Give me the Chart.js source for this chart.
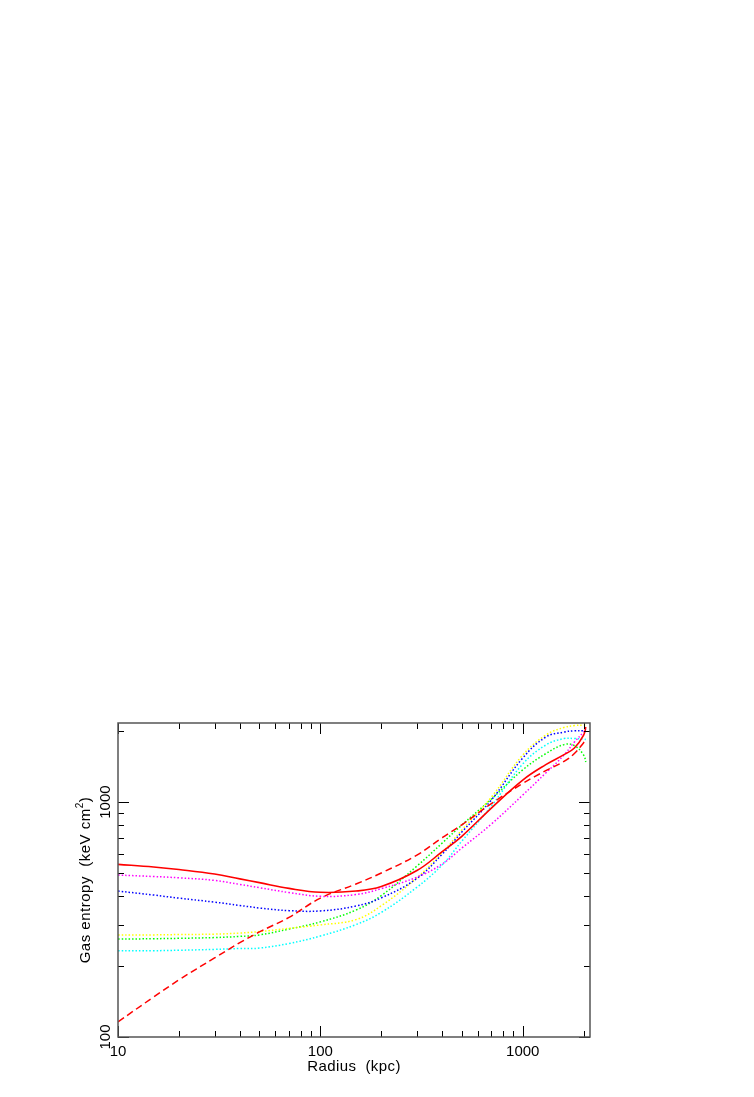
<!DOCTYPE html>
<html>
<head>
<meta charset="utf-8">
<script src="https://cdn.jsdelivr.net/npm/chart.js@4/dist/chart.umd.min.js"></script>
<style>
  html, body { margin: 0; padding: 0; background: #fff; }
  #c { position: absolute; left: 0; top: 0; }
</style>
</head>
<body>
<canvas id="c" width="754" height="1097"></canvas>
<script>
// radius (kpc) and gas entropy (keV cm^2)
const radius    = [10, 15, 20, 30, 40, 50, 70, 100, 150, 200, 300, 400, 500, 700, 1000, 1300, 1600, 1800, 2000, 2050];
const redSolid  = [543, 529, 516, 494, 471, 454, 429, 413, 418, 437, 511, 615, 715, 943, 1241, 1443, 1591, 1698, 1928, 2085];
const redDashed = [116, 148, 175, 217, 252, 280, 323, 390, 448, 499, 595, 705, 800, 985, 1200, 1360, 1490, 1610, 1790, 1840];
const magenta   = [489, 482, 476, 464, 446, 432, 412, 397, 404, 428, 479, 545, 637, 806, 1071, 1329, 1585, 1800, 1986, 2045];
const blue      = [418, 402, 390, 375, 363, 354, 345, 344, 361, 391, 473, 600, 745, 1020, 1539, 1891, 1986, 2011, 2011, 2011];
const yellow    = [272, 272, 273, 274, 277, 281, 290, 300, 316, 362, 476, 610, 760, 1050, 1585, 1928, 2078, 2115, 2127, 2127];
const green     = [261, 262, 263, 265, 268, 272, 288, 309, 347, 400, 534, 669, 798, 1029, 1371, 1607, 1756, 1739, 1585, 1480];
const cyan      = [233, 233, 234, 236, 238, 239, 250, 269, 301, 339, 434, 540, 682, 962, 1452, 1748, 1863, 1863, 1854, 1845];

const xMin = 10, xMax = 2150;
const yMin = 100, yMax = 2170;
const xLabels = [10, 100, 1000];
const yLabels = [100, 1000];

const FONT = "'Liberation Sans', Arial, sans-serif";

function pts(ys) {
  return radius.map((r, i) => ({ x: r, y: ys[i] }));
}

function series(label, ys, color, dash, width) {
  return {
    label: label,
    data: pts(ys),
    borderColor: color,
    borderWidth: width || 1.5,
    borderDash: dash,
    pointRadius: 0,
    fill: false,
    tension: 0.4
  };
}

const DOT = [1.5, 2];

// minor/major tick values inside a range
function logTicks(lo, hi) {
  const out = [];
  for (let p = Math.floor(Math.log10(lo)); p <= Math.ceil(Math.log10(hi)); p++) {
    for (let k = 1; k <= 9; k++) {
      const v = k * Math.pow(10, p);
      if (v >= lo && v <= hi) out.push({ v: v, major: k === 1 });
    }
  }
  return out;
}

const framePlugin = {
  id: 'frame',
  afterDraw(chart) {
    const ctx = chart.ctx;
    const a = chart.chartArea;
    const xs = chart.scales.x, ys = chart.scales.y;
    ctx.save();

    // inward ticks on all four sides
    ctx.strokeStyle = '#000';
    ctx.lineWidth = 1;
    ctx.beginPath();
    logTicks(xMin, xMax).forEach(t => {
      const px = Math.round(xs.getPixelForValue(t.v)) + 0.5;
      const len = t.major ? 11 : 6;
      ctx.moveTo(px, a.bottom); ctx.lineTo(px, a.bottom - len);
      ctx.moveTo(px, a.top); ctx.lineTo(px, a.top + len);
    });
    logTicks(yMin, yMax).forEach(t => {
      const py = Math.round(ys.getPixelForValue(t.v)) + 0.5;
      const len = t.major ? 11 : 6;
      ctx.moveTo(a.left, py); ctx.lineTo(a.left + len, py);
      ctx.moveTo(a.right, py); ctx.lineTo(a.right - len, py);
    });
    ctx.stroke();

    // frame
    ctx.strokeStyle = '#555';
    ctx.lineWidth = 1.5;
    ctx.strokeRect(a.left, a.top, a.right - a.left, a.bottom - a.top);

    // tick labels
    ctx.fillStyle = '#000';
    ctx.font = '15px ' + FONT;
    ctx.textAlign = 'center';
    ctx.textBaseline = 'middle';
    xLabels.forEach(v => {
      ctx.fillText(String(v), xs.getPixelForValue(v), a.bottom + 15);
    });
    yLabels.forEach(v => {
      ctx.save();
      ctx.translate(a.left - 12, ys.getPixelForValue(v));
      ctx.rotate(-Math.PI / 2);
      ctx.fillText(String(v), 0, 0);
      ctx.restore();
    });

    // axis titles
    ctx.letterSpacing = '0.4px';
    ctx.fillText('Radius  (kpc)', (a.left + a.right) / 2, a.bottom + 30);

    ctx.save();
    ctx.translate(a.left - 32, (a.top + a.bottom) / 2);
    ctx.rotate(-Math.PI / 2);
    ctx.letterSpacing = '0.5px';
    const main = 'Gas entropy  (keV cm';
    ctx.font = '15px ' + FONT;
    const w1 = ctx.measureText(main).width;
    ctx.font = '10px ' + FONT;
    const w2 = ctx.measureText('2').width;
    ctx.font = '15px ' + FONT;
    const w3 = ctx.measureText(')').width;
    let x0 = -(w1 + w2 + w3) / 2;
    ctx.textAlign = 'left';
    ctx.fillText(main, x0, 0);
    ctx.font = '10px ' + FONT;
    ctx.fillText('2', x0 + w1, -6);
    ctx.font = '15px ' + FONT;
    ctx.fillText(')', x0 + w1 + w2, 0);
    ctx.restore();

    ctx.restore();
  }
};

new Chart(document.getElementById('c'), {
  type: 'line',
  data: {
    datasets: [
      series('model', redSolid, '#ff0000', [], 1.6),
      series('power law', redDashed, '#ff0000', [7, 4], 1.5),
      series('magenta', magenta, '#ff00ff', DOT),
      series('blue', blue, '#0000ff', DOT),
      series('yellow', yellow, '#ffff00', DOT),
      series('green', green, '#00ff00', DOT),
      series('cyan', cyan, '#00ffff', DOT)
    ]
  },
  options: {
    responsive: false,
    devicePixelRatio: 1,
    animation: false,
    layout: { padding: { left: 0, right: 164, top: 723, bottom: 0 } },
    plugins: {
      legend: { display: false },
      tooltip: { enabled: false }
    },
    scales: {
      x: {
        type: 'logarithmic',
        min: xMin,
        max: xMax,
        grid: { display: false },
        border: { display: false },
        ticks: { display: false },
        afterFit(s) { s.height = 60; }
      },
      y: {
        type: 'logarithmic',
        min: yMin,
        max: yMax,
        grid: { display: false },
        border: { display: false },
        ticks: { display: false },
        afterFit(s) { s.width = 118; }
      }
    }
  },
  plugins: [framePlugin]
});
</script>
</body>
</html>
